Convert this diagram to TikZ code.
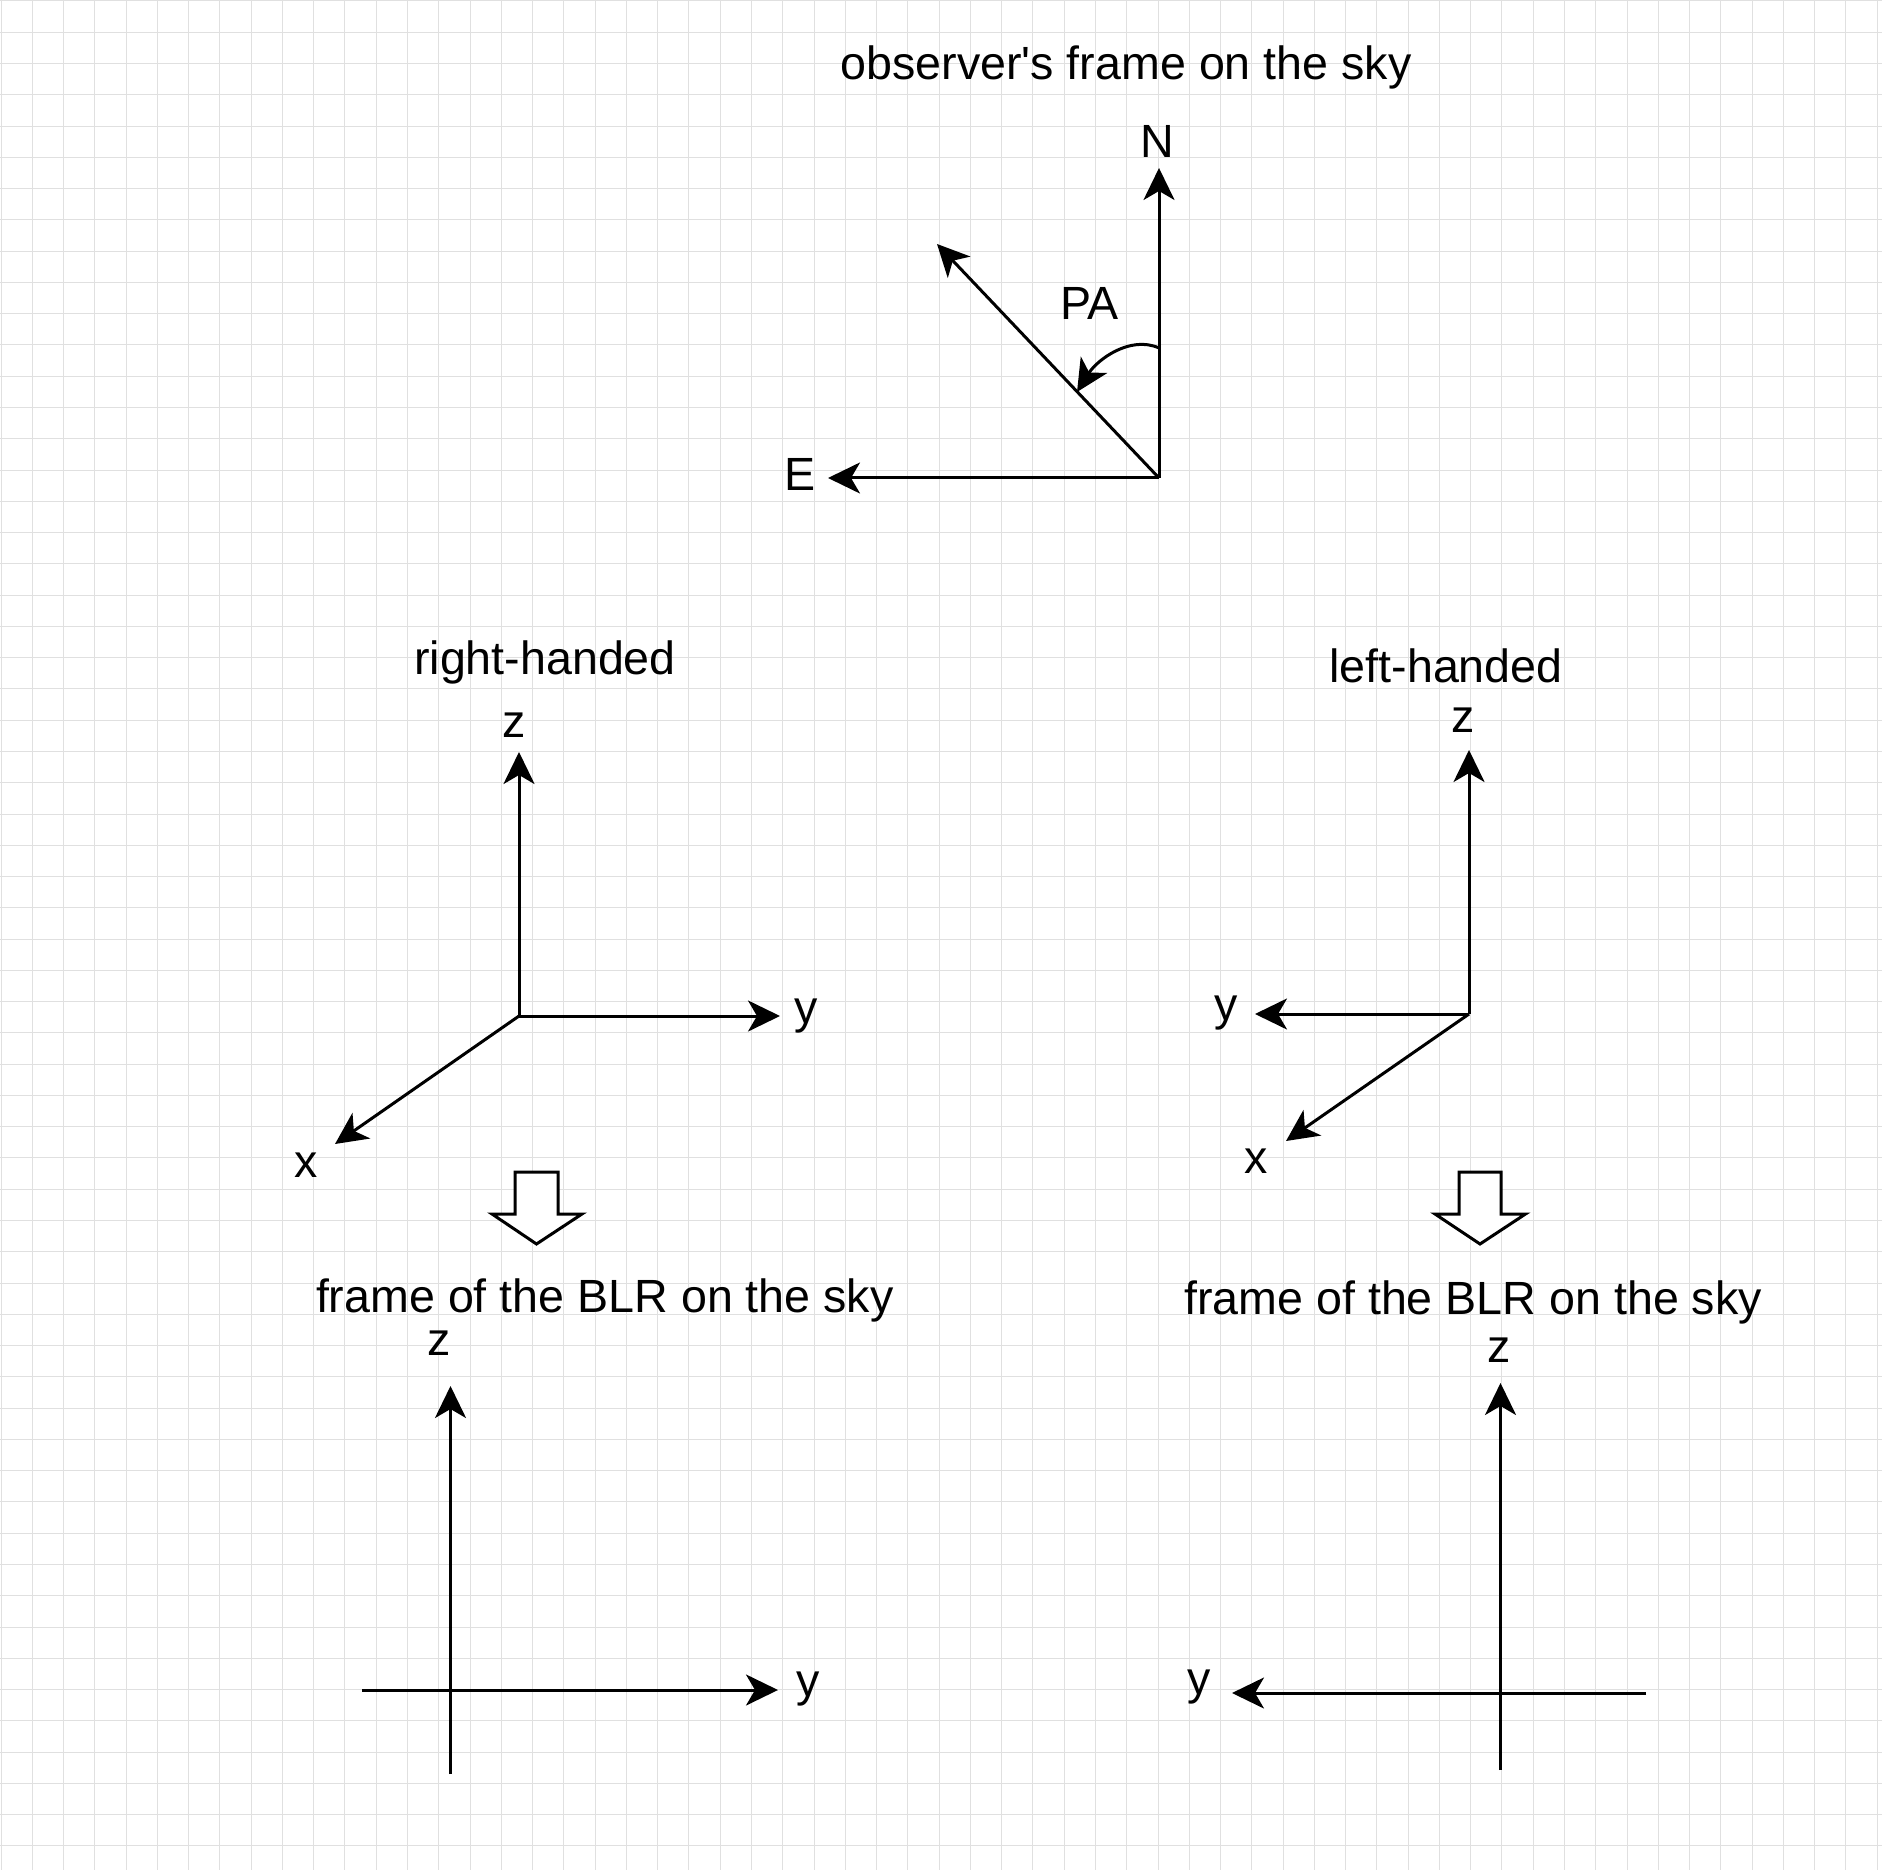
\documentclass[tikz,border=0pt]{standalone}
\usepackage{fontspec}
\setmainfont{Liberation Sans}[Ligatures=TeXOff]
\usetikzlibrary{arrows.meta}
\begin{document}
\begin{tikzpicture}[x=0.25pt,y=-0.25pt,
  axis/.style={line width=0.75pt, -{Stealth[length=8pt,width=7.75pt,inset=2.25pt]}},
  lbl/.style={inner sep=0pt, font=\fontsize{11.65pt}{14pt}\selectfont},
  gridline/.style={line width=0.25pt, draw=gray!24},
  hollow/.style={line width=0.75pt, draw=black, fill=white, line join=miter}]
\useasboundingbox (0,0) rectangle (1882,1870);
\fill[white] (0,0) rectangle (1882,1870);
\foreach \k in {0,...,60} { \draw[gridline] ({1+\k*31.27},0) -- ({1+\k*31.27},1870); }
\foreach \k in {0,...,59} { \draw[gridline] (0,{1+\k*31.27}) -- (1882,{1+\k*31.27}); }

% ---------- observer's frame ----------
\node[lbl] (obsTitle) at (1126,67) {observer's frame on the sky};
\coordinate (obsO) at (1159,478);
\coordinate (obsN) at (1159,168);
\coordinate (obsE) at (828,478);
\coordinate (obsD) at (937,244);
\node[lbl] (labN) at (1157,141) {N};
\node[lbl] (labE) at (800.5,474) {E};
\node[lbl] (labPA) at (1089.5,303.5) {PA};
\draw[axis] (obsO) -- (obsN);
\draw[axis] (obsO) -- (obsE);
\draw[axis] (obsO) -- (obsD);
\coordinate (arcS) at (1159,348);
\coordinate (arcE) at (1077,392);
\draw[axis] (arcS) .. controls (1130,335) and (1097,360) .. (arcE);

% ---------- right-handed ----------
\node[lbl] (rhTitle) at (545,662) {right-handed};
\coordinate (rhO) at (519,1016);
\coordinate (rhZ) at (519,752);
\coordinate (rhY) at (780,1016);
\coordinate (rhX) at (335,1144);
\node[lbl] (rhLz) at (514.5,725) {z};
\node[lbl] (rhLy) at (806,1016) {y};
\node[lbl] (rhLx) at (306.5,1165) {x};
\draw[axis] (rhO) -- (rhZ);
\draw[axis] (rhO) -- (rhY);
\draw[axis] (rhO) -- (rhX);

% ---------- left-handed ----------
\node[lbl] (lhTitle) at (1446,665.5) {left-handed};
\coordinate (lhO) at (1469,1014);
\coordinate (lhZ) at (1469,750);
\coordinate (lhY) at (1255,1014);
\coordinate (lhX) at (1286,1141);
\node[lbl] (lhLz) at (1463.5,720.5) {z};
\node[lbl] (lhLy) at (1226,1013) {y};
\node[lbl] (lhLx) at (1256,1161) {x};
\draw[axis] (lhO) -- (lhZ);
\draw[axis] (lhO) -- (lhY);
\draw[axis] (lhO) -- (lhX);

% ---------- hollow arrows ----------
\draw[hollow] (515,1172) -- (558,1172) -- (558,1214) -- (582,1214) -- (536.5,1244)
  -- (492,1214) -- (515,1214) -- cycle;
\draw[hollow] (1459,1172) -- (1501,1172) -- (1501,1214) -- (1525.5,1214) -- (1480,1244)
  -- (1435,1214) -- (1459,1214) -- cycle;

% ---------- bottom left frame ----------
\node[lbl] (blTitle) at (604.8,1300) {frame of the BLR on the sky};
\coordinate (blZb) at (450.5,1774);
\coordinate (blZt) at (450.5,1386);
\coordinate (blYl) at (362,1690);
\coordinate (blYr) at (778,1690);
\node[lbl] (blLz) at (439.5,1343.5) {z};
\node[lbl] (blLy) at (808.5,1689) {y};
\draw[axis] (blZb) -- (blZt);
\draw[axis] (blYl) -- (blYr);

% ---------- bottom right frame ----------
\node[lbl] (brTitle) at (1473,1302) {frame of the BLR on the sky};
\coordinate (brZb) at (1500.5,1770);
\coordinate (brZt) at (1500.5,1383);
\coordinate (brYr) at (1646,1693);
\coordinate (brYl) at (1232,1693);
\node[lbl] (brLz) at (1499.5,1350) {z};
\node[lbl] (brLy) at (1199.5,1687) {y};
\draw[axis] (brZb) -- (brZt);
\draw[axis] (brYr) -- (brYl);
\end{tikzpicture}
\end{document}
